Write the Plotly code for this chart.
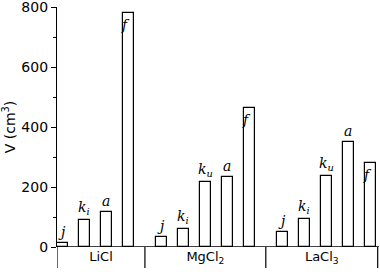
import plotly.graph_objects as go

# ---- data ----
groups = ["LiCl", "MgCl<sub>2</sub>", "LaCl<sub>3</sub>"]
bar_labels = [
    ["j", "k_i", "a", "f"],
    ["j", "k_i", "k_u", "a", "f"],
    ["j", "k_i", "k_u", "a", "f"],
]
values = [
    [15, 90, 117, 780],
    [33, 60, 217, 233, 465],
    [50, 93, 237, 350, 280],
]
y_ticks = [0, 200, 400, 600, 800]

# ---- layout helpers ----
GAP = 1.5
xs, ys, labs = [], [], []
starts, ends = [], []
pos = 0.0
for g, vals in enumerate(values):
    starts.append(pos)
    for i, v in enumerate(vals):
        xs.append(pos + i)
        ys.append(v)
        labs.append(bar_labels[g][i])
    ends.append(pos + len(vals) - 1)
    pos = pos + len(vals) - 1 + GAP

seps = [starts[0] - 0.25]
for g in range(len(values) - 1):
    seps.append((ends[g] + starts[g + 1]) / 2)
seps.append(ends[-1] + 0.34)
centers = [(seps[i] + seps[i + 1]) / 2 for i in range(len(values))]

fig = go.Figure()
fig.add_trace(go.Bar(
    x=xs, y=ys, width=0.5,
    marker=dict(color="white", line=dict(color="black", width=1.2)),
    hoverinfo="skip",
))

def fmt(lab):
    if "_" in lab:
        a, b = lab.split("_")
        return f"<i>{a}</i><sub><i>{b}</i></sub>"
    return f"<i>{lab}</i>"

ann = []
for x, y, lab in zip(xs, ys, labs):
    if lab == "f":
        ann.append(dict(x=x - 0.12, y=y, xref="x", yref="y", text=fmt(lab),
                        showarrow=False, yanchor="top", yshift=-2,
                        font=dict(family="DejaVu Serif", size=14, color="black")))
    else:
        ann.append(dict(x=x, y=y, xref="x", yref="y", text=fmt(lab),
                        showarrow=False, yanchor="bottom", yshift=1,
                        font=dict(family="DejaVu Serif", size=14, color="black")))

shapes = [dict(type="line", xref="paper", yref="y", x0=0, x1=1, y0=0, y1=0,
               line=dict(color="black", width=1.3), layer="above")]
for s in seps:
    shapes.append(dict(type="line", xref="x", yref="paper", x0=s, x1=s,
                       y0=0, y1=-21 / 240, line=dict(color="black", width=1.2)))

fig.update_layout(
    width=380, height=272,
    margin=dict(l=57, r=1, t=7, b=25),
    paper_bgcolor="white", plot_bgcolor="white",
    showlegend=False,
    annotations=ann, shapes=shapes,
    font=dict(family="DejaVu Sans", size=13, color="black"),
    bargap=0,
)
fig.update_xaxes(
    range=[seps[0], seps[0] + 14.65], showgrid=False, zeroline=False,
    showline=False, automargin=False,
    tickvals=centers, ticktext=groups, ticks="", ticklen=0,
    tickfont=dict(family="DejaVu Sans", size=13),
)
fig.update_yaxes(
    range=[0, 801], showgrid=False, zeroline=False, automargin=False,
    showline=True, linecolor="black", linewidth=1.2,
    tickvals=y_ticks, ticks="outside", ticklen=5, tickwidth=1.2, tickcolor="black",
    minor=dict(dtick=100, ticks="outside", ticklen=3, tickwidth=1, tickcolor="black"),
    tickfont=dict(family="DejaVu Sans", size=14),
    ticklabeloverflow="allow",
    title=dict(text="V (cm<sup>3</sup>)", standoff=4,
               font=dict(family="DejaVu Sans", size=14)),
)

fig.write_html(
    "out.html",
    config={"displayModeBar": False},
    post_script="document.body.style.margin='0';document.body.style.overflow='hidden';",
)
